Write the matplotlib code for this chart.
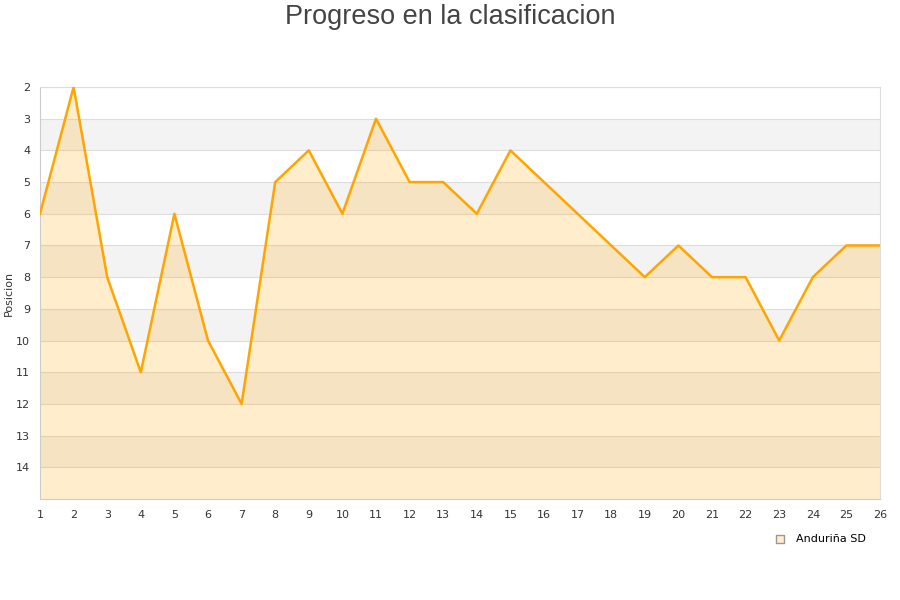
import numpy as np
import matplotlib.pyplot as plt

# Datos: posicion por jornada
jornadas = list(range(1, 27))
posiciones = [6, 2, 8, 11, 6, 10, 12, 5, 4, 6, 3, 5, 5, 6, 4, 5, 6, 7, 8, 7, 8, 8, 10, 8, 7, 7]
equipo = 'Anduriña SD'
y_ticks = list(range(2, 15))

fig = plt.figure(figsize=(9, 6), dpi=100)
ax = fig.add_axes([40 / 900, 101 / 600, 840 / 900, 412 / 600])

# Bandas alternas de fondo
for y0 in range(3, 15, 2):
    ax.axhspan(y0, y0 + 1, color='#f3f3f3', zorder=0, lw=0)

for y in y_ticks:
    ax.axhline(y, color='#dddddd', lw=0.8, zorder=1)

ax.fill_between(jornadas, posiciones, 15, color='#ffa500', alpha=0.2, lw=0, zorder=2)
ax.plot(jornadas, posiciones, color='#ffa500', lw=1.8, zorder=3)

ax.set_xlim(1, 26)
ax.set_ylim(15, 2)
ax.set_xticks(jornadas)
ax.set_yticks(y_ticks)
ax.tick_params(length=0, labelsize=8, colors='#333333', pad=8)
ax.tick_params(axis='y', pad=7)
for side in ['left', 'bottom', 'top', 'right']:
    ax.spines[side].set_color('#dddddd')
    ax.spines[side].set_linewidth(0.8)
ax.spines['left'].set_color('#cccccc')
ax.spines['bottom'].set_color('#cccccc')

ax.set_ylabel('Posicion', fontsize=8, color='#333333')
ax.yaxis.set_label_coords(-26 / 840, 0.5)

fig.text(0.5, 0.972, 'Progreso en la clasificacion', ha='center', va='center',
         fontsize=19.5, color='#444444', family='Liberation Sans')

# Leyenda
ax.scatter([], [], marker='s', s=40, facecolor='#ffedcc', edgecolor='#999999', label=equipo)
leg = ax.legend(loc='upper right', bbox_to_anchor=(0.988, -0.075), frameon=False,
                fontsize=8, handletextpad=0.4, borderaxespad=0)

fig.savefig('out.png', dpi=100)
